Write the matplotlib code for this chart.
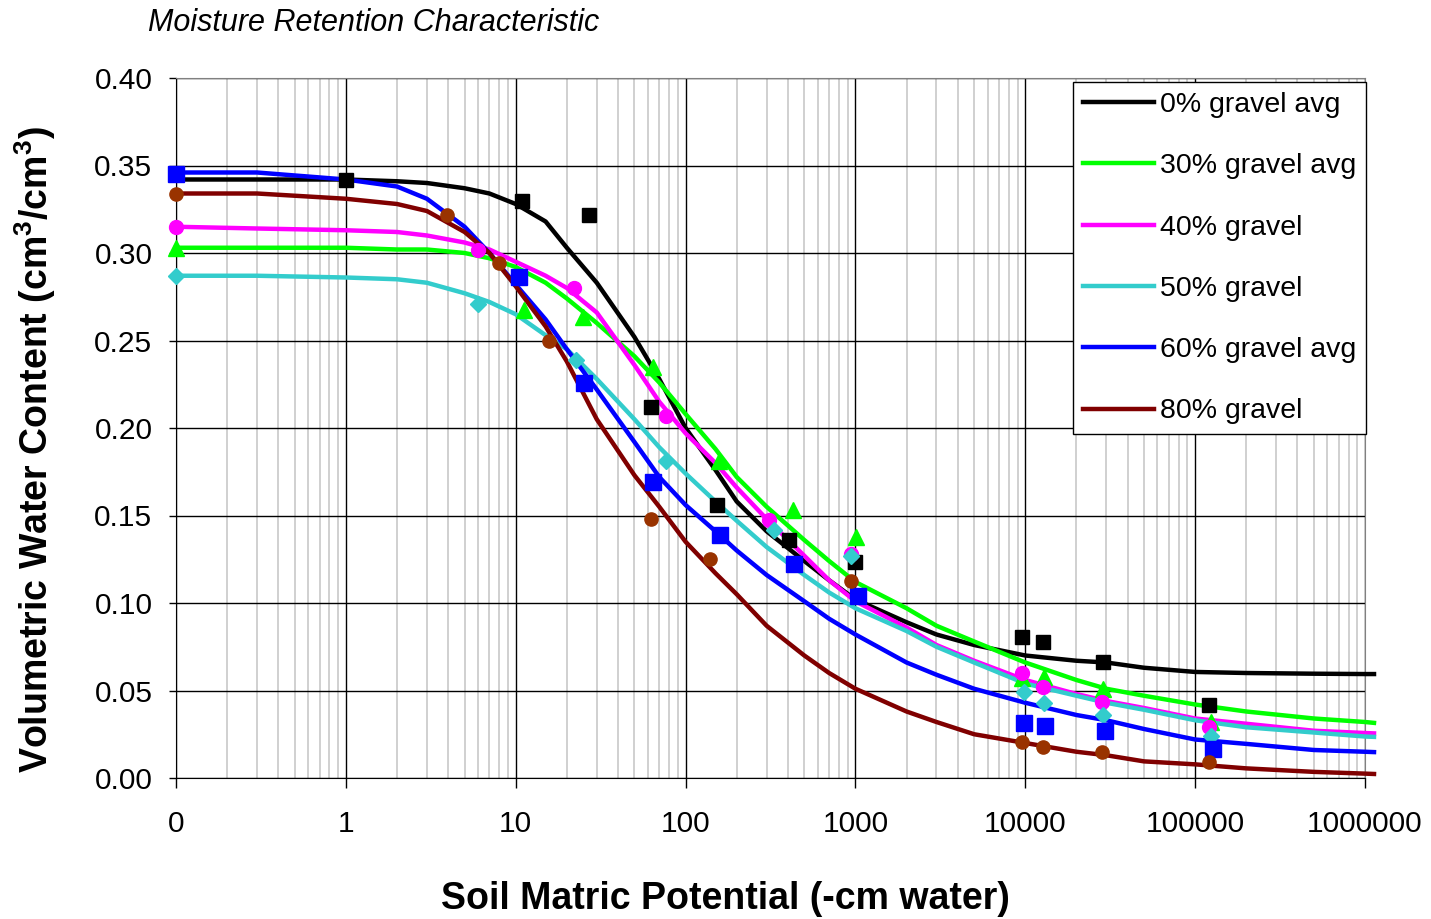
import matplotlib
matplotlib.use("Agg")
import matplotlib.pyplot as plt
from matplotlib.ticker import FixedLocator, LogLocator, FuncFormatter, NullFormatter

plt.rcParams['font.family'] = ['Liberation Sans', 'DejaVu Sans']
plt.rcParams['mathtext.fontset'] = 'custom'
plt.rcParams['mathtext.rm'] = 'Liberation Sans'
plt.rcParams['mathtext.bf'] = 'Liberation Sans:bold'

# smooth fitted curves
psi_curve = [0.1, 0.3, 1, 2, 3, 5, 7, 10, 15, 20, 30, 50, 70, 100, 150, 200, 300, 500, 700,
             1000, 2000, 3000, 5000, 1e4, 2e4, 3e4, 5e4, 1e5, 2e5, 5e5, 1e6, 1.13e6]
fit_0 = [0.342, 0.342, 0.342, 0.341, 0.340, 0.337, 0.334, 0.328, 0.318, 0.303, 0.283, 0.252, 0.228,
         0.200, 0.176, 0.158, 0.141, 0.124, 0.113, 0.102, 0.089, 0.082, 0.076, 0.070, 0.067, 0.066,
         0.063, 0.0606, 0.060, 0.0596, 0.0594, 0.0594]
fit_30 = [0.303, 0.303, 0.303, 0.302, 0.302, 0.300, 0.297, 0.292, 0.283, 0.274, 0.260, 0.241, 0.226,
          0.208, 0.188, 0.172, 0.155, 0.136, 0.124, 0.112, 0.097, 0.087, 0.078, 0.066, 0.056, 0.051,
          0.047, 0.042, 0.038, 0.034, 0.032, 0.0315]
fit_40 = [0.315, 0.314, 0.313, 0.312, 0.310, 0.306, 0.302, 0.295, 0.287, 0.280, 0.266, 0.236, 0.215,
          0.197, 0.180, 0.166, 0.148, 0.127, 0.113, 0.101, 0.086, 0.076, 0.067, 0.056, 0.048, 0.044,
          0.040, 0.034, 0.031, 0.027, 0.0257, 0.0255]
fit_50 = [0.287, 0.287, 0.286, 0.285, 0.283, 0.277, 0.272, 0.265, 0.253, 0.245, 0.228, 0.205, 0.189,
          0.174, 0.158, 0.147, 0.132, 0.116, 0.106, 0.097, 0.084, 0.075, 0.066, 0.054, 0.047, 0.043,
          0.039, 0.033, 0.029, 0.026, 0.0237, 0.0235]
fit_60 = [0.346, 0.346, 0.342, 0.338, 0.331, 0.315, 0.300, 0.282, 0.262, 0.245, 0.222, 0.192, 0.172,
          0.156, 0.141, 0.130, 0.116, 0.101, 0.091, 0.082, 0.066, 0.059, 0.051, 0.043, 0.036, 0.033,
          0.028, 0.022, 0.0195, 0.016, 0.015, 0.0148]
fit_80 = [0.334, 0.334, 0.331, 0.328, 0.324, 0.312, 0.300, 0.281, 0.258, 0.238, 0.205, 0.173, 0.155,
          0.135, 0.117, 0.105, 0.087, 0.070, 0.060, 0.051, 0.038, 0.032, 0.025, 0.020, 0.015, 0.013,
          0.0095, 0.0078, 0.0055, 0.0035, 0.0025, 0.0023]

# measured points
psi_0 = [1, 10.9, 27, 62.5, 154, 408, 1000, 9570, 12800, 28500, 121000]
obs_0 = [0.342, 0.330, 0.322, 0.212, 0.156, 0.136, 0.1236, 0.0806, 0.0777, 0.0663, 0.042]
psi_30 = [0.1, 11.2, 24.8, 64, 157, 428, 1010, 9570, 12900, 28700, 124000]
obs_30 = [0.3027, 0.2674, 0.2636, 0.235, 0.1813, 0.153, 0.1375, 0.057, 0.0579, 0.0509, 0.0322]
psi_40 = [0.1, 5.97, 22.0, 76.5, 310, 940, 9570, 12700, 28300, 121000]
obs_40 = [0.315, 0.3017, 0.2798, 0.2069, 0.1474, 0.128, 0.0598, 0.0518, 0.0436, 0.029]
psi_50 = [0.1, 6.0, 22.6, 76.5, 332, 945, 9800, 12900, 28700, 124000]
obs_50 = [0.2869, 0.2709, 0.2389, 0.1813, 0.1417, 0.1269, 0.0493, 0.0427, 0.036, 0.024]
psi_60 = [0.1, 10.4, 25.4, 64.5, 160, 433, 1040, 9850, 13100, 29600, 127000]
obs_60 = [0.3451, 0.2865, 0.2255, 0.1693, 0.1389, 0.1221, 0.1042, 0.0312, 0.0297, 0.027, 0.0166]
psi_80 = [0.1, 3.93, 8.0, 15.7, 62.6, 139, 940, 9570, 12700, 28300, 121000]
obs_80 = [0.334, 0.3217, 0.2945, 0.2499, 0.148, 0.125, 0.1128, 0.0204, 0.0175, 0.0147, 0.0093]

labels = ['0% gravel avg', '30% gravel avg', '40% gravel', '50% gravel',
          '60% gravel avg', '80% gravel']
x_ticks = [0.1, 1, 10, 100, 1000, 10000, 100000, 1000000]
y_ticks = [0.00, 0.05, 0.10, 0.15, 0.20, 0.25, 0.30, 0.35, 0.40]

fig = plt.figure(figsize=(14.31, 9.19), dpi=100)
ax = fig.add_axes([176 / 1431, 141 / 919, 1189 / 1431, 700 / 919])

curves = [fit_0, fit_30, fit_40, fit_50, fit_60, fit_80]
line_cols = ['#000000', '#00FF00', '#FF00FF', '#33CCCC', '#0000FF', '#800000']
for c, col, lab in zip(curves, line_cols, labels):
    ax.plot(psi_curve, c, color=col, lw=3.2, label=lab, zorder=3, clip_on=False)

pts = [(psi_0, obs_0, 's', '#000000', 9.5),
       (psi_30, obs_30, '^', '#00FF00', 11),
       (psi_40, obs_40, 'o', '#FF00FF', 10),
       (psi_50, obs_50, 'D', '#33CCCC', 8),
       (psi_60, obs_60, 's', '#0000FF', 12),
       (psi_80, obs_80, 'o', '#993300', 9.5)]
for px, py, m, col, ms in pts:
    ax.plot(px, py, ls='none', marker=m, color=col, ms=ms, mec=col, zorder=4, clip_on=False)

ax.set_xscale('log')
ax.set_xlim(0.1, 1e6)
ax.set_ylim(0, 0.40)
ax.xaxis.set_major_locator(FixedLocator(x_ticks))
ax.xaxis.set_minor_locator(LogLocator(base=10, subs=range(2, 10), numticks=20))
ax.xaxis.set_major_formatter(FuncFormatter(lambda v, _: f"{v:.0f}"))
ax.xaxis.set_minor_formatter(NullFormatter())
ax.set_yticks(y_ticks)
ax.yaxis.set_major_formatter(FuncFormatter(lambda v, _: f"{v:.2f}"))

ax.grid(which='major', axis='both', color='#000000', lw=1.0, zorder=0)
ax.grid(which='minor', axis='x', color='#c8c8c8', lw=1.2, zorder=0)
ax.set_axisbelow(True)
ax.tick_params(axis='x', which='major', length=7, width=1, pad=16, labelsize=21.5, direction='out')
ax.tick_params(axis='x', which='minor', length=0)
ax.tick_params(axis='y', which='major', length=5, width=1, pad=12, labelsize=21.5, direction='out')
for s in ['top', 'right']:
    ax.spines[s].set_color('#808080')
for s in ['left', 'bottom']:
    ax.spines[s].set_color('#000000')

ax.set_xlabel('Soil Matric Potential (-cm water)', fontsize=27, fontweight='bold')
ax.xaxis.set_label_coords((725 - 176) / 1189, (919 - 881 - 141) / 700)
ax.set_ylabel(r'Volumetric Water Content (cm$^{\mathbf{3}}$/cm$^{\mathbf{3}}$)',
              fontsize=27, fontweight='bold')
ax.yaxis.set_label_coords((58 - 176) / 1189, (919 - 450 - 141) / 700)
fig.text(148 / 1431, 1 - 23 / 919, 'Moisture Retention Characteristic', fontsize=22,
         style='italic', ha='left', va='center')

leg = ax.legend(loc='upper right', bbox_to_anchor=(1366 / 1431, 1 - 82 / 919),
                bbox_transform=fig.transFigure, fontsize=20.5, frameon=True, fancybox=False,
                edgecolor='#000000', framealpha=1, borderaxespad=0, borderpad=0.35,
                handlelength=2.5, handletextpad=0.2, labelspacing=1.24)
leg.get_frame().set_linewidth(1.0)
leg.set_zorder(6)

fig.savefig('out.png', dpi=100)
